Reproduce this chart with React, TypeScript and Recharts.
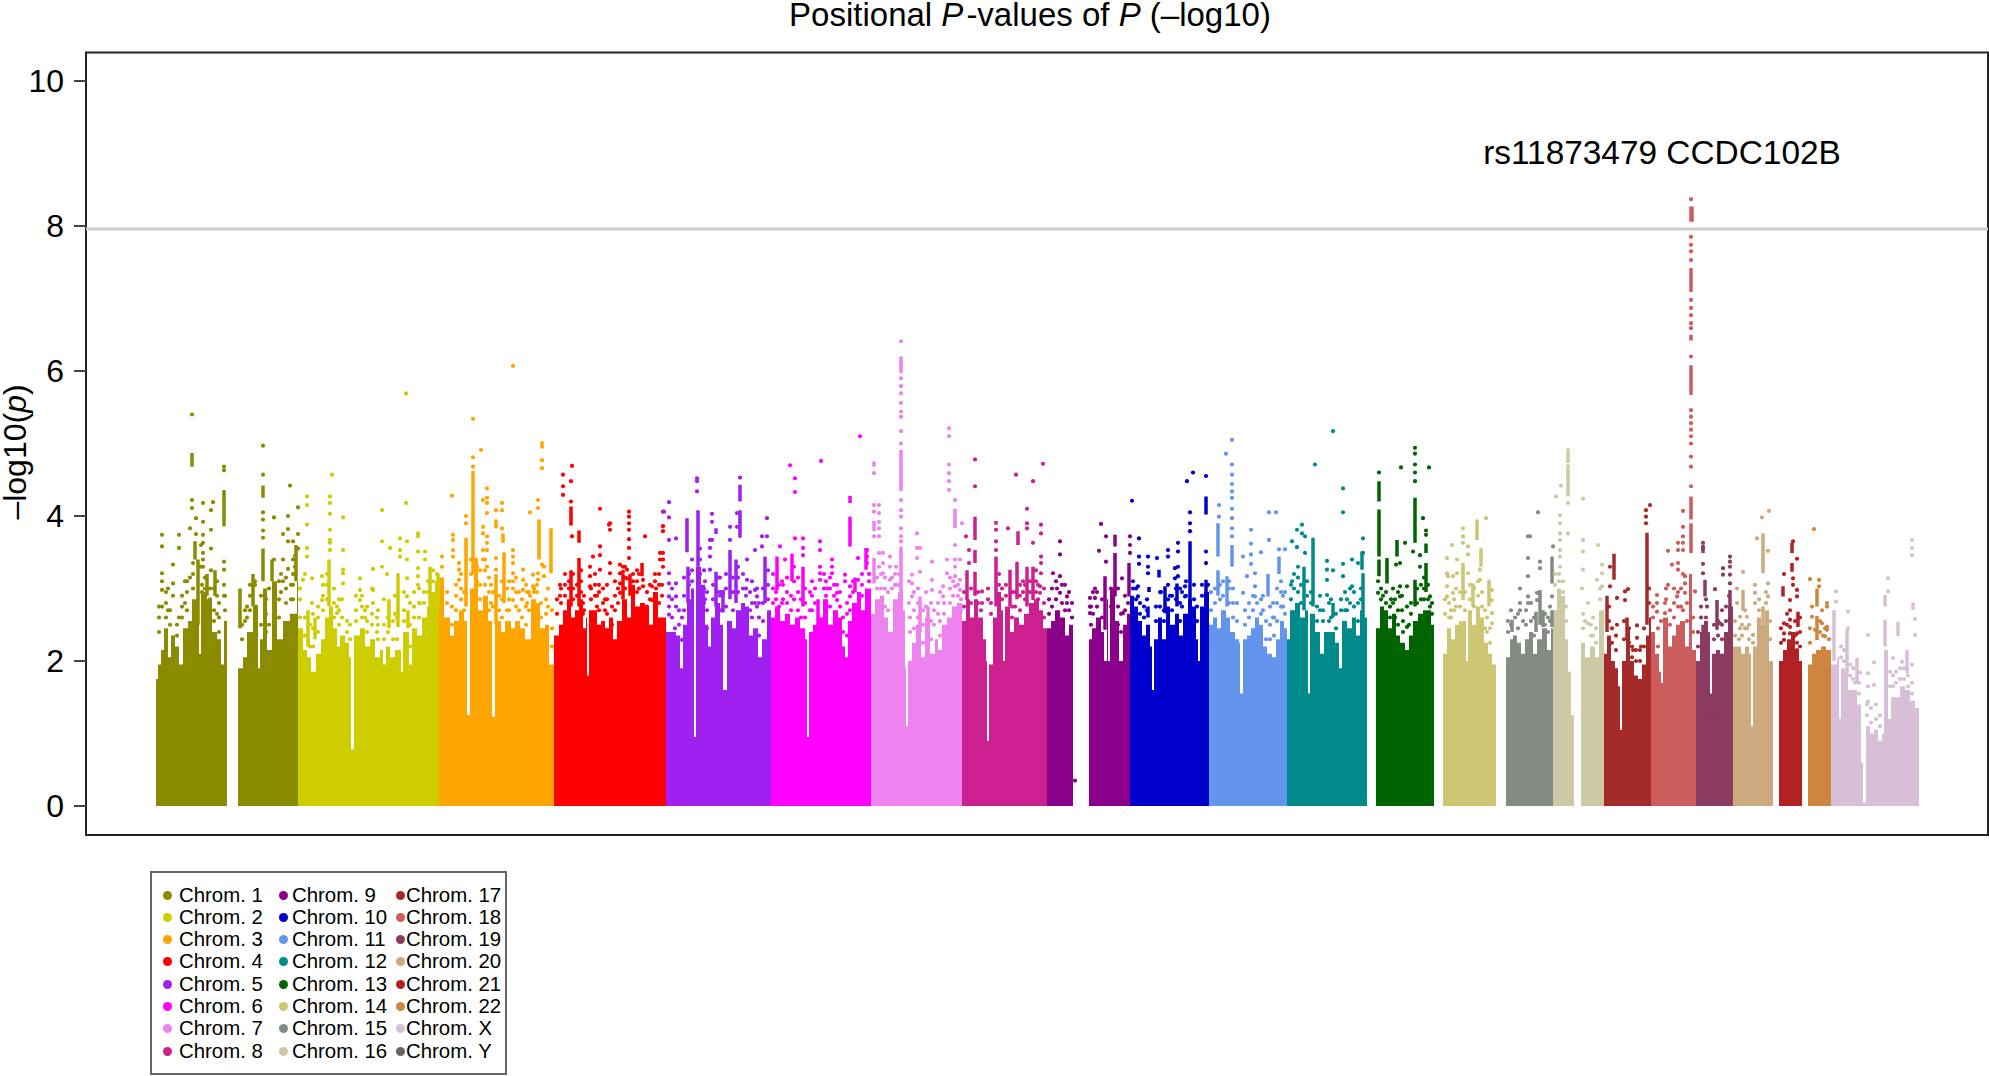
import { ComposedChart, Area, Line, Scatter, XAxis, YAxis, ReferenceLine, ReferenceArea } from 'recharts';

// x values are genome positions, in bins from the start of chromosome 1
// top: [pos, height of the dense band]; spikes: [pos, low, high]; dots: [pos, ...values]
type Top = [number, number][];
type Spike = [number, number, number];
type Dots = number[][];

const yTicks = [0, 2, 4, 6, 8, 10];
const thresholdValue = 7.96;

const chr1Top: Top = [[1, 1.75], [3, 1.95], [6, 2.15], [9, 2.45], [13, 2.05], [16, 2.35], [20, 2.2], [24, 1.95], [28, 2.45], [33, 2.55], [37, 2.85], [42, 3.3], [44, 2.1], [46, 2.95], [52, 2.85], [57, 2.4], [62, 2.3], [66, 1.95], [69, 2.55], [72, 0], [83, 1.9], [88, 2.05], [92, 2.4], [98, 2.75], [103, 1.9], [105, 2.3], [108, 3.0], [112, 2.15], [117, 3.1], [122, 2.3], [128, 2.55], [135, 2.65], [142, 3.1], [143, 0]];
const chr1Spikes: Spike[] = [[37, 4.68, 4.87], [69, 3.86, 4.36], [40, 3.4, 3.65], [43, 2.5, 3.4], [52, 2.9, 3.2], [60, 2.9, 3.25], [108, 3.1, 3.55], [108, 4.25, 4.42], [98, 2.75, 3.2], [117, 3.1, 3.4], [85, 2.45, 3.0], [141, 3.1, 3.6]];
const chr1Dots: Dots = [[37, 5.4, 4.22, 4.11], [69, 4.68, 4.63, 3.37, 3.26, 3.05, 2.9], [7, 3.74, 3.58, 3.21, 3.1, 2.98, 2.75], [24, 3.74, 3.56, 2.6], [18, 3.33, 3.07, 2.9], [35, 3.83, 3.15], [48, 4.18, 3.92, 3.74, 3.63, 3.49, 3.4, 3.3], [58, 4.19], [56, 4.08, 3.81, 3.55, 3.25], [41, 3.97, 3.75], [46, 3.6, 3.3], [62, 3.1, 2.9, 2.65], [30, 3.1, 2.8], [13, 3.0, 2.7], [108, 4.97, 4.57, 4.05, 3.95, 3.8, 3.7], [119, 3.98, 3.4], [133, 4.0, 3.82, 3.65, 3.27], [135, 4.42], [143, 4.12, 3.75, 3.55], [128, 3.75, 3.4, 3.1], [138, 3.65, 3.4, 3.2, 3.05, 2.85], [100, 3.1, 3.05], [92, 2.75, 2.6], [126, 2.95, 3.2],
  [4, 2.4, 2.6, 2.75], [11, 2.6, 2.8, 2.95], [15, 2.5, 2.7], [22, 2.35, 2.5], [27, 2.6, 2.75, 2.9], [32, 2.7, 2.95, 3.1], [38, 3.0, 3.2, 3.35], [47, 3.05, 2.95], [50, 3.0, 3.15], [55, 2.6, 2.85, 3.0], [59, 2.55, 2.7, 3.0], [64, 2.4, 2.6, 2.8], [70, 2.7, 2.9], [87, 2.3, 2.5], [90, 2.55, 2.7], [95, 2.7, 2.9, 3.05], [101, 2.6, 2.75], [106, 2.5, 2.9], [111, 2.4, 2.65, 2.85], [114, 2.5, 3.0], [120, 2.5, 2.75, 2.95], [124, 2.6, 2.85, 3.1], [131, 2.8, 3.0, 3.15], [136, 2.85, 3.05], [140, 3.2, 3.3, 3.45]];

const chr2Top: Top = [[143, 2.45], [148, 2.15], [152, 2.05], [156, 1.85], [161, 2.1], [166, 2.3], [170, 2.6], [174, 2.75], [178, 2.45], [182, 2.2], [185, 2.35], [190, 2.25], [194, 2.05], [196, 0.78], [199, 2.35], [205, 2.45], [210, 2.2], [215, 2.3], [220, 2.05], [225, 2.15], [228, 1.95], [231, 2.2], [235, 2.05], [240, 2.15], [246, 1.85], [248, 2.4], [254, 1.95], [257, 2.45], [262, 2.35], [267, 2.6], [272, 2.75], [276, 2.95], [280, 3.1], [284, 0]];
const chr2Spikes: Spike[] = [[174, 2.75, 3.4], [243, 2.47, 3.21], [234, 2.45, 2.85], [253, 2.45, 2.7], [275, 2.75, 3.3], [283, 2.75, 3.2], [153, 2.2, 2.7], [160, 2.3, 2.6]];
const chr2Dots: Dots = [[152, 4.27, 4.15, 3.88, 3.56, 3.44], [148, 3.12], [177, 4.57], [175, 4.27, 4.18, 4.03, 3.81, 3.67, 3.63, 3.53], [188, 3.98, 3.53, 3.26, 3.21, 3.07], [205, 3.14, 2.98, 2.84], [218, 3.27, 2.98, 2.8], [167, 3.17, 2.84], [157, 3.14, 2.8], [182, 2.75, 2.66], [195, 2.5, 2.3], [227, 4.08, 3.65, 3.3], [251, 5.69, 4.18], [245, 3.69, 3.53, 3.44], [235, 3.56], [232, 3.2], [263, 3.76, 3.72, 3.51, 3.28, 3.17, 3.05], [252, 3.65, 3.4, 3.14, 2.89], [270, 3.51, 3.4], [265, 2.8], [210, 2.7, 2.6], [240, 2.65, 2.9], [222, 2.4, 2.6],
  [145, 2.6, 2.85, 3.0], [150, 2.35, 2.6, 3.2], [155, 2.2, 2.5], [158, 2.2, 2.45, 2.65], [163, 2.4, 2.6, 2.75], [168, 2.7, 2.9, 3.05], [172, 2.85, 3.05, 3.2], [179, 2.6, 2.8, 3.0], [184, 2.5, 2.7, 2.85], [187, 2.6, 2.85], [192, 2.4, 2.55], [201, 2.55, 2.7, 2.9], [207, 2.6, 2.75, 2.9], [212, 2.4, 2.55, 2.75], [217, 2.5, 2.65, 3.0], [223, 2.3, 2.5, 2.7], [229, 2.3, 2.5, 2.85], [233, 2.4, 2.6], [238, 2.3, 2.55], [242, 2.3, 2.6], [249, 2.55, 2.7, 2.95], [255, 2.2, 2.5, 2.8], [259, 2.6, 2.75, 2.95], [264, 2.6, 2.8, 3.0], [269, 2.8, 2.95], [273, 2.95, 3.1], [278, 3.1, 3.25], [282, 3.2]];

const chr3Top: Top = [[284, 3.15], [289, 2.6], [295, 2.35], [299, 2.55], [304, 2.7], [309, 2.55], [312, 1.25], [315, 3.0], [319, 3.4], [323, 2.7], [328, 2.9], [333, 2.55], [337, 1.23], [340, 2.55], [346, 2.4], [350, 2.55], [356, 2.45], [360, 2.55], [365, 2.45], [370, 2.3], [376, 2.85], [381, 2.8], [385, 2.45], [390, 2.5], [394, 1.95], [399, 0]];
const chr3Spikes: Spike[] = [[318, 3.2, 4.62], [311, 2.75, 3.7], [341, 3.83, 3.95], [341, 2.5, 3.2], [348, 3.63, 3.76], [349, 2.8, 3.5], [384, 3.4, 3.95], [387, 4.93, 5.03], [396, 3.21, 3.83]];
const chr3Dots: Dots = [[318, 5.34, 4.81, 4.68], [326, 4.91], [358, 6.07], [297, 4.28], [287, 3.44, 3.3], [298, 3.74, 3.67, 3.53, 3.44], [304, 3.35, 3.26, 3.12], [311, 4.0, 3.9], [332, 4.38, 4.25, 4.18, 4.04, 3.72, 3.63, 3.53, 3.3], [328, 4.22, 3.85, 3.76, 3.53, 3.4], [341, 4.08, 3.42, 3.26], [347, 4.18, 4.08, 3.83], [358, 3.53, 3.44, 3.35, 3.21, 3.1, 3.0, 2.84], [368, 3.26, 3.12, 2.98], [375, 4.05, 2.9], [383, 4.22, 4.11, 3.21, 3.12], [387, 4.77, 4.66, 3.33], [378, 3.19, 3.03], [389, 3.3, 3.17], [322, 3.1, 3.3], [336, 3.05, 2.8], [352, 3.0, 2.7], [364, 2.95, 2.7], [372, 2.8, 2.95],
  [287, 2.75, 2.95], [292, 2.55, 2.8, 2.95], [297, 2.5, 2.75], [301, 2.7, 2.9, 3.05], [306, 2.85, 3.0, 3.2], [309, 2.7, 2.95], [316, 3.2, 3.4], [321, 2.9, 3.1, 3.4], [325, 2.85, 3.05, 3.25], [330, 3.05, 3.25, 3.4], [334, 2.7, 2.95, 3.15], [338, 2.75, 2.95], [344, 2.7, 2.9], [347, 2.6, 2.85, 3.1], [354, 2.7, 2.85, 3.1], [361, 2.75, 2.95, 3.15], [367, 2.6, 2.85], [371, 2.5, 2.75, 3.05], [374, 2.7, 2.95], [379, 3.0, 2.95], [382, 2.95, 3.05], [386, 2.6, 2.8], [391, 2.65, 2.85], [393, 2.75, 3.0], [397, 2.2, 2.45, 2.7]];

const chr4Top: Top = [[399, 2.35], [404, 2.5], [408, 2.7], [412, 2.85], [416, 2.6], [420, 2.7], [424, 2.85], [428, 2.45], [431, 2.6], [432, 1.8], [434, 2.7], [438, 2.7], [442, 2.5], [446, 2.55], [450, 2.45], [454, 2.6], [458, 2.3], [462, 2.55], [467, 2.85], [472, 2.6], [476, 3.05], [480, 2.75], [485, 2.8], [490, 2.75], [494, 2.5], [498, 2.95], [503, 2.6], [511, 0]];
const chr4Spikes: Spike[] = [[416, 3.87, 4.13], [416, 2.75, 3.25], [424, 3.63, 3.8], [424, 2.75, 3.42], [468, 2.85, 3.2], [475, 2.9, 3.2], [487, 3.17, 3.35]];
const chr4Dots: Dots = [[417, 4.69, 3.72], [408, 4.57, 4.41, 4.29], [416, 4.48, 4.2], [445, 4.1, 3.58, 3.46, 3.26], [454, 3.88], [435, 3.3, 3.17, 3.03], [438, 3.44], [474, 4.06, 3.99, 3.9, 3.81, 3.68, 3.56, 3.42], [490, 3.72], [508, 4.06, 3.86, 3.79, 3.49, 3.4, 3.3], [505, 3.49, 3.4], [468, 3.3, 3.23], [472, 3.26, 3.14], [488, 3.12, 3.03], [497, 3.03, 2.84], [465, 3.33, 3.21, 3.07, 2.94], [455, 3.9, 3.81, 3.35, 3.21], [405, 2.9, 3.05], [428, 2.8, 2.65], [442, 2.75, 2.9], [450, 2.7, 2.85], [500, 3.1, 3.2],
  [402, 2.65, 2.85], [406, 2.8, 3.0], [410, 2.9, 3.05, 3.2], [414, 3.0, 3.1], [418, 2.85, 3.0, 3.2], [422, 2.9, 3.05], [426, 2.95, 3.1, 3.25], [429, 2.7, 2.9], [436, 2.85, 3.0], [440, 2.9, 3.05, 3.2], [444, 2.7, 2.95, 3.05], [448, 2.8, 3.0], [452, 2.65, 2.85, 3.05], [457, 2.5, 2.75], [460, 2.7, 2.9, 3.1], [463, 2.8, 3.0], [470, 3.0, 3.15, 3.3], [478, 3.1, 3.2], [482, 2.95, 3.1, 3.25], [484, 3.0, 3.2], [492, 2.75, 2.95], [495, 2.85, 3.05], [501, 2.85, 3.0], [504, 2.8, 3.05, 3.2], [507, 2.9, 3.05]];

const chr5Top: Top = [[511, 2.4], [516, 2.4], [521, 2.35], [525, 1.9], [528, 2.5], [532, 2.85], [536, 3.0], [539, 0.95], [541, 3.3], [546, 3.05], [550, 2.5], [553, 2.2], [556, 2.6], [560, 2.8], [565, 2.5], [568, 1.6], [572, 2.55], [577, 2.45], [581, 2.7], [586, 2.8], [590, 2.75], [594, 2.35], [598, 2.45], [603, 2.05], [607, 2.3], [612, 2.7], [616, 0]];
const chr5Spikes: Spike[] = [[532, 3.5, 3.97], [533, 2.8, 3.3], [543, 3.3, 4.08], [561, 3.75, 3.83], [561, 2.75, 3.23], [585, 4.2, 4.43], [585, 3.7, 4.08], [575, 2.85, 3.53], [581, 2.8, 3.4], [610, 2.8, 3.44], [568, 2.67, 2.98]];
const chr5Dots: Dots = [[514, 4.19, 3.98, 3.67, 3.21, 3.07, 2.89, 2.75, 2.64], [509, 4.06], [521, 3.69, 3.07, 2.89, 2.75], [542, 4.52, 4.34, 4.48], [585, 4.53], [557, 4.03, 3.92, 3.67], [555, 3.67, 3.56, 3.44, 3.26], [612, 3.97, 3.72], [607, 3.72, 3.58], [600, 3.53, 2.98, 2.8], [592, 3.4, 3.12], [575, 3.85, 3.67], [582, 4.04, 3.85], [602, 3.0, 2.89, 2.75], [568, 2.94], [527, 2.29, 2.6], [550, 3.1, 2.85], [565, 3.15, 2.9], [595, 2.95, 2.7], [520, 2.45], [548, 1.9, 2.0], [596, 1.9],
  [517, 2.6, 2.85, 3.0], [524, 2.5, 2.7], [529, 2.7, 2.9, 3.15], [534, 3.05, 3.2], [537, 3.1, 3.25, 3.4], [545, 3.2, 3.4, 3.55], [549, 2.8, 3.0, 3.25], [552, 2.45, 2.7, 2.95], [558, 2.85, 3.05], [563, 2.75, 2.95, 3.15], [566, 2.7, 2.95], [571, 2.75, 3.0, 3.2], [578, 2.7, 2.95, 3.15], [583, 2.95, 3.15, 3.3], [588, 3.0, 3.2], [591, 2.9, 3.0], [597, 2.6, 2.8, 3.1], [604, 2.35, 2.6, 2.8], [608, 2.55, 2.8, 3.0], [613, 2.85, 3.05, 3.25]];

const chr6Top: Top = [[616, 2.6], [620, 2.75], [625, 2.55], [630, 2.65], [635, 2.5], [640, 2.6], [645, 2.45], [650, 2.3], [652, 0.95], [654, 2.4], [658, 2.5], [663, 2.6], [668, 2.85], [673, 2.5], [678, 2.7], [683, 2.6], [687, 2.2], [690, 2.05], [693, 2.55], [697, 2.8], [702, 2.95], [706, 2.7], [710, 3.0], [716, 0]];
const chr6Spikes: Spike[] = [[637, 3.1, 3.48], [648, 2.75, 3.3], [622, 2.98, 3.44], [663, 2.4, 2.85], [695, 4.18, 4.28], [695, 3.58, 3.99], [711, 3.26, 3.56], [700, 2.95, 3.15]];
const chr6Dots: Dots = [[635, 4.7], [640, 4.52, 4.33, 3.69], [666, 4.76], [648, 3.69, 3.56, 3.46], [625, 3.58], [665, 3.65, 3.53, 3.3, 3.21, 3.12], [677, 3.4, 3.3, 3.21], [682, 3.05, 2.94, 2.84], [630, 3.4], [705, 5.1], [690, 3.19, 3.1], [712, 3.53, 3.44, 3.35], [703, 3.42, 3.12], [695, 3.03, 2.89, 2.7], [655, 2.95, 2.7], [672, 3.0, 2.75], [628, 3.05, 2.85],
  [618, 2.8, 3.0, 3.2], [621, 2.85, 2.95], [624, 2.75, 3.05], [627, 2.8, 3.1], [632, 2.8, 2.95, 3.15], [636, 2.7, 2.9], [639, 2.85, 3.1, 3.3], [643, 2.7, 2.95, 3.15], [646, 2.6, 2.85], [650, 2.6, 2.8, 3.0], [657, 2.7, 2.9, 3.1], [660, 2.8, 3.0], [669, 3.0, 3.2], [671, 2.9, 3.1], [675, 2.75, 3.0, 3.15], [679, 2.9, 3.05], [685, 2.75, 2.95], [688, 2.4, 2.6], [692, 2.35, 2.65, 2.8], [698, 2.95, 3.1], [707, 2.9, 3.05, 3.2], [714, 3.1, 3.2]];

const chr7Top: Top = [[716, 2.65], [720, 2.85], [725, 2.9], [729, 2.6], [733, 2.4], [738, 2.85], [743, 2.95], [748, 2.7], [750, 1.9], [751, 1.1], [753, 2.0], [757, 2.25], [761, 2.5], [766, 2.05], [770, 2.6], [775, 2.1], [780, 2.3], [783, 2.15], [787, 2.5], [792, 2.6], [797, 2.75], [802, 2.8], [807, 0]];
const chr7Spikes: Spike[] = [[746, 5.97, 6.2], [746, 4.34, 4.91], [746, 2.9, 3.58], [719, 3.07, 3.42], [719, 4.68, 4.75], [719, 3.79, 3.93], [800, 3.83, 4.1], [765, 2.4, 2.89], [773, 2.3, 2.75]];
const chr7Dots: Dots = [[746, 6.41, 5.9, 5.79, 5.69, 5.56, 5.44, 5.37, 5.17, 5.0, 4.22, 4.08, 3.99, 3.83, 3.72, 3.65], [794, 5.21, 5.1, 4.71, 4.59, 4.48, 4.36], [719, 4.59, 4.15, 4.06, 3.72], [724, 4.15, 4.04, 3.92, 3.83, 3.72, 3.49, 3.3], [728, 3.49, 3.35, 3.21], [735, 3.44, 3.3, 3.12], [762, 3.76, 3.56, 3.42], [765, 3.56, 3.23], [777, 3.37, 3.12, 2.98], [757, 3.19, 3.07, 2.89], [800, 4.22, 3.6, 3.4, 3.3, 3.17, 3.03], [792, 3.4, 3.21], [805, 3.4, 3.12, 2.98], [807, 3.9], [788, 3.03, 2.89], [740, 3.2, 3.05], [754, 3.1, 2.8], [783, 2.8, 2.65],
  [722, 3.0, 3.15], [726, 3.0, 3.2], [730, 2.75, 3.0, 3.15], [733, 2.7, 2.95], [737, 3.0, 3.15], [741, 3.05, 3.3], [744, 3.05, 3.2], [755, 2.4, 2.6], [759, 2.45, 2.7, 2.95], [763, 2.6, 2.8, 3.0], [768, 2.25, 2.5, 2.7], [771, 2.75, 2.95], [776, 2.3, 2.55, 2.8], [779, 2.5, 2.7], [785, 2.35, 2.55, 2.95], [789, 2.65, 2.8], [795, 2.8, 3.0, 3.15], [798, 2.9, 3.1], [803, 2.9, 3.05], [806, 2.7, 2.85]];

const chr8Top: Top = [[807, 2.55], [811, 2.85], [815, 2.6], [819, 2.85], [823, 2.6], [828, 2.3], [831, 2.0], [832, 0.9], [834, 1.95], [838, 2.6], [842, 2.95], [846, 2.7], [848, 2.0], [850, 2.75], [855, 2.4], [859, 2.6], [864, 2.5], [869, 2.65], [874, 2.8], [879, 2.85], [884, 2.7], [888, 2.45], [892, 0]];
const chr8Spikes: Spike[] = [[820, 3.67, 3.99], [820, 3.35, 3.53], [820, 2.9, 3.23], [812, 2.84, 3.25], [841, 2.75, 3.44], [841, 3.88, 3.93], [863, 3.6, 3.79], [878, 2.84, 3.3], [872, 2.75, 3.3], [862, 2.85, 3.37], [855, 2.75, 3.26]];
const chr8Dots: Dots = [[820, 4.78, 4.41], [888, 4.72], [861, 4.57], [878, 4.48, 3.63], [872, 4.1, 3.9, 3.83], [853, 3.83], [886, 3.88, 3.76, 3.44, 3.35, 3.21], [841, 3.81, 3.65, 3.53], [811, 3.72], [814, 3.53, 3.35], [827, 2.96, 2.8], [885, 3.03, 2.94], [833, 3.0, 2.85], [868, 3.1, 2.95],
  [809, 2.75, 2.95], [816, 2.8, 3.0], [823, 2.8, 2.95], [826, 2.55, 2.7], [836, 2.8, 2.65], [844, 3.05, 3.2], [847, 2.85, 3.0], [851, 2.9, 3.05], [857, 2.6, 2.75, 2.95], [860, 2.75, 2.95], [865, 2.7, 2.9, 3.05], [870, 2.85, 3.05], [875, 2.95, 3.1], [881, 2.95, 3.1, 3.25], [883, 2.85, 3.05], [889, 2.6, 2.8, 3.0]];

const chr9Top: Top = [[892, 2.45], [896, 2.55], [900, 2.7], [905, 2.6], [910, 2.35], [914, 2.5], [918, 0], [934, 2.3], [937, 2.45], [941, 2.6], [946, 2.4], [949, 2.0], [952, 2.85], [953, 2.0], [955, 3.0], [960, 2.55], [964, 2.0], [968, 2.5], [972, 2.65], [975, 0]];
const chr9Spikes: Spike[] = [[960, 3.58, 3.74], [960, 2.89, 3.49], [950, 2.43, 3.17], [974, 2.89, 3.35]];
const chr9Dots: Dots = [[920, 0.35], [946, 3.89], [951, 3.72, 3.37], [944, 3.52], [935, 2.87, 2.75, 2.66], [940, 2.87, 3.0], [905, 3.65, 3.47, 3.17, 2.94], [898, 3.21], [902, 3.0], [912, 2.89, 2.8], [975, 3.72, 3.6, 3.49], [967, 3.14], [968, 2.66], [956, 2.75, 3.0], [910, 3.05, 2.7],
  [894, 2.65, 2.85], [897, 2.75, 3.0], [901, 2.85, 3.1], [907, 2.8, 3.05], [914, 2.7, 2.95], [917, 2.6, 2.8], [936, 2.5, 2.75], [938, 2.65, 2.95], [942, 2.75, 2.95], [947, 2.6, 2.85], [958, 2.7, 2.95], [963, 2.5, 2.75, 3.0], [966, 2.4, 2.65], [970, 2.7, 2.9], [973, 2.8]];

const chr10Top: Top = [[975, 2.9], [979, 2.75], [983, 2.55], [987, 2.35], [991, 2.5], [995, 2.2], [997, 1.6], [999, 2.3], [1003, 2.6], [1007, 2.3], [1011, 2.75], [1015, 2.5], [1020, 2.65], [1024, 2.35], [1028, 2.65], [1033, 2.85], [1037, 2.75], [1041, 2.3], [1043, 2.0], [1045, 2.75], [1049, 2.95], [1054, 0]];
const chr10Spikes: Spike[] = [[1035, 2.75, 3.65], [1051, 4.02, 4.27], [1051, 2.7, 3.12], [994, 2.95, 3.02], [993, 2.6, 2.75], [1010, 2.66, 3.03], [1022, 2.75, 3.07], [1004, 3.15, 3.26]];
const chr10Dots: Dots = [[977, 4.21], [1038, 4.6], [1032, 4.48], [1051, 4.55, 3.51, 3.35], [1035, 4.05, 3.9, 3.79], [984, 3.69, 3.44, 3.34], [993, 3.44, 3.3, 3.21], [1013, 3.53, 3.44], [1023, 3.63, 3.51, 3.3, 3.17], [1020, 3.28, 3.14], [983, 3.03, 2.89], [1002, 3.42], [1030, 3.03, 2.89], [1015, 2.9], [1006, 2.95],
  [978, 3.0, 3.1], [981, 2.85, 3.0], [985, 2.65, 2.8], [989, 2.6, 2.75], [992, 2.7, 2.85], [1001, 2.55, 2.75], [1005, 2.75, 2.95], [1009, 2.55, 2.7], [1013, 2.85, 3.05], [1017, 2.7, 2.9], [1021, 2.85, 3.0], [1025, 2.55, 2.8, 3.0], [1027, 2.75, 2.95], [1031, 2.9, 3.1], [1039, 2.85, 3.05], [1042, 2.55, 2.75], [1047, 2.9, 3.05], [1053, 3.05]];

const chr11Top: Top = [[1054, 2.5], [1058, 2.6], [1062, 2.45], [1066, 2.7], [1071, 2.6], [1075, 2.4], [1080, 2.3], [1084, 2.25], [1085, 1.55], [1088, 2.3], [1092, 2.35], [1096, 2.45], [1100, 2.6], [1104, 2.5], [1108, 2.2], [1112, 2.1], [1117, 2.05], [1121, 2.3], [1125, 2.55], [1129, 2.45], [1132, 0]];
const chr11Spikes: Spike[] = [[1063, 3.44, 3.9], [1063, 2.9, 3.25], [1072, 2.75, 3.17], [1077, 3.3, 3.6], [1113, 2.89, 3.2], [1124, 3.2, 3.44]];
const chr11Dots: Dots = [[1077, 5.05, 4.71, 4.57, 4.44, 4.34, 4.25, 4.1, 3.97, 3.83, 3.72], [1071, 4.86], [1064, 4.15, 3.99], [1114, 4.05, 3.67], [1121, 4.05], [1106, 3.5], [1096, 3.81, 3.62, 3.47, 3.34], [1088, 3.44, 2.94], [1124, 3.54], [1130, 3.54], [1092, 3.17], [1100, 3.21, 3.03, 2.89], [1108, 2.9, 2.7], [1118, 2.8, 2.6], [1128, 2.9, 2.75],
  [1056, 2.7, 2.95], [1060, 2.8, 3.0], [1065, 2.85, 3.05], [1068, 2.9, 3.1], [1074, 2.8, 3.0, 3.1], [1078, 2.6, 2.8, 3.0], [1082, 2.55, 2.8], [1090, 2.5, 2.7], [1094, 2.6, 2.8], [1098, 2.7, 2.9], [1102, 2.8], [1106, 2.65, 2.85], [1111, 2.3, 2.55], [1115, 2.3, 2.5, 2.75], [1119, 2.35, 2.6], [1122, 2.55, 2.8, 3.0], [1126, 2.75, 2.95, 3.1], [1130, 2.65, 2.95]];

const chr12Top: Top = [[1132, 2.3], [1135, 2.7], [1140, 2.8], [1145, 2.6], [1150, 2.7], [1153, 1.55], [1155, 2.65], [1160, 2.4], [1165, 2.1], [1169, 2.4], [1175, 2.4], [1180, 2.25], [1184, 1.9], [1187, 2.55], [1192, 2.45], [1197, 2.6], [1201, 2.35], [1205, 2.7], [1209, 2.6], [1212, 0]];
const chr12Spikes: Spike[] = [[1158, 2.75, 3.7], [1149, 2.7, 3.3], [1208, 2.6, 3.21], [1178, 2.6, 2.8], [1207, 3.26, 3.51]];
const chr12Dots: Dots = [[1178, 5.17, 3.25], [1160, 4.71], [1188, 4.38, 4.05, 3.34, 3.17], [1208, 3.69, 3.49], [1147, 3.88, 3.76], [1137, 3.65, 3.1], [1142, 3.57, 3.81], [1172, 3.38, 3.26, 3.12, 2.91], [1197, 3.4, 3.03], [1203, 3.35], [1150, 3.72, 3.49], [1165, 2.7, 2.9], [1192, 2.85, 2.7],
  [1136, 2.85, 3.05], [1139, 3.0, 3.2], [1143, 2.95, 3.15, 3.3], [1146, 2.8, 3.05], [1152, 2.9, 3.1], [1156, 2.8, 2.95], [1162, 2.55, 2.75], [1168, 2.55, 2.7], [1174, 2.55, 2.8], [1176, 2.6, 2.85], [1181, 2.45, 2.65], [1186, 2.7, 2.85], [1190, 2.7, 2.95], [1195, 2.8, 3.0], [1199, 2.75, 2.95], [1203, 2.55, 2.8], [1206, 2.85, 3.0]];

const chr13Top: Top = [[1221, 2.45], [1225, 2.75], [1229, 2.7], [1233, 2.45], [1237, 2.65], [1241, 2.35], [1245, 2.25], [1250, 2.15], [1254, 2.35], [1258, 2.55], [1263, 2.65], [1268, 2.7], [1272, 2.7], [1276, 2.5], [1279, 0]];
const chr13Spikes: Spike[] = [[1224, 4.2, 4.48], [1224, 3.44, 4.09], [1224, 3.17, 3.4], [1232, 3.07, 3.42], [1260, 3.63, 4.25], [1260, 2.75, 3.12], [1271, 3.49, 3.62], [1271, 2.95, 3.35], [1242, 3.44, 3.67]];
const chr13Dots: Dots = [[1224, 4.6], [1260, 4.94, 4.86, 4.71, 4.6, 4.48], [1246, 4.67], [1274, 4.67], [1268, 3.97], [1271, 3.8, 3.74], [1258, 3.51], [1265, 3.46, 3.3], [1250, 3.63], [1241, 3.33], [1245, 3.35, 3.03, 2.89], [1252, 3.03, 2.75, 2.47], [1223, 3.1, 2.94], [1275, 2.89, 2.75], [1236, 2.85], [1248, 2.4, 2.55], [1254, 2.5],
  [1226, 2.85, 3.0], [1228, 2.9], [1231, 2.8, 2.95], [1235, 2.6, 2.75], [1238, 2.8, 3.0], [1240, 2.6, 2.85], [1243, 2.5, 2.7, 2.95], [1247, 2.7, 2.9], [1256, 2.65, 2.8], [1262, 2.8, 3.0], [1266, 2.85, 3.05], [1269, 2.85, 3.0, 3.15], [1273, 2.85, 3.05], [1277, 2.65, 2.8]];

const chr14Top: Top = [[1288, 2.1], [1292, 2.45], [1296, 2.3], [1300, 2.5], [1304, 2.55], [1308, 2.55], [1311, 2.0], [1313, 2.7], [1317, 2.5], [1321, 2.75], [1325, 2.6], [1329, 2.25], [1333, 2.1], [1337, 1.95], [1341, 0]];
const chr14Spikes: Spike[] = [[1322, 3.67, 3.95], [1326, 3.3, 3.56], [1308, 2.84, 3.35], [1318, 2.75, 3.07], [1334, 2.75, 3.12]];
const chr14Dots: Dots = [[1331, 3.97], [1308, 3.83, 3.72, 3.63], [1297, 3.6], [1292, 3.42, 3.21, 3.03, 2.89], [1313, 3.58, 3.47, 3.21], [1302, 3.4, 3.21], [1293, 3.17], [1298, 3.17, 2.94], [1325, 3.26, 3.12], [1337, 2.98, 2.84, 2.66, 2.52], [1296, 2.7, 2.6],
  [1290, 2.65, 2.85], [1294, 2.6, 2.8], [1299, 2.7, 2.85], [1301, 2.75, 3.0], [1305, 2.75, 2.95], [1310, 2.7, 2.95], [1315, 2.85, 3.05], [1319, 2.75, 3.0], [1323, 2.9, 3.1], [1327, 2.75, 2.95], [1330, 2.45, 2.7], [1332, 2.4, 2.6], [1335, 2.25, 2.45]];

const chr15Top: Top = [[1351, 2.05], [1355, 2.3], [1358, 2.35], [1362, 2.25], [1366, 2.1], [1370, 2.3], [1374, 2.4], [1378, 2.1], [1382, 2.3], [1387, 2.45], [1392, 2.15], [1396, 2.45], [1398, 0]];
const chr15Spikes: Spike[] = [[1357, 2.4, 2.57], [1381, 2.4, 2.68], [1385, 2.5, 2.98], [1388, 2.47, 2.7], [1397, 2.47, 2.7], [1397, 3.07, 3.44]];
const chr15Dots: Dots = [[1383, 4.05], [1398, 3.58], [1385, 3.37, 3.28], [1373, 3.72, 3.42, 3.17, 2.89, 2.8], [1365, 3.0, 2.8, 2.7], [1382, 2.94, 2.84], [1397, 2.89], [1375, 3.72], [1360, 2.6], [1368, 2.55],
  [1353, 2.4, 2.55], [1356, 2.5, 2.7], [1363, 2.45, 2.65], [1371, 2.5, 2.7], [1376, 2.55, 2.8], [1379, 2.35, 2.6], [1390, 2.5, 2.65], [1393, 2.4, 2.6], [1395, 2.55, 2.75]];

const chr16Top: Top = [[1398, 2.7], [1402, 3.0], [1406, 2.9], [1410, 2.3], [1413, 1.85], [1416, 1.25], [1419, 0], [1426, 2.25], [1430, 2.05], [1435, 2.2], [1440, 2.05], [1444, 2.7], [1449, 0]];
const chr16Spikes: Spike[] = [[1413, 4.73, 4.93], [1413, 4.27, 4.71]];
const chr16Dots: Dots = [[1413, 4.18, 3.76], [1406, 4.42], [1401, 4.27], [1428, 4.24, 3.67, 3.51, 3.26], [1443, 3.6], [1405, 4.01, 3.9, 3.76, 3.67, 3.53, 3.44, 3.3], [1427, 3.0], [1433, 2.8, 2.52], [1442, 3.12], [1447, 3.33, 3.21, 3.03], [1430, 2.55], [1438, 2.6, 2.35],
  [1400, 3.05, 3.2], [1404, 3.1, 3.2], [1408, 2.95, 3.1], [1411, 2.55, 2.75], [1428, 2.45, 2.65], [1436, 2.35, 2.5], [1441, 2.25, 2.45], [1445, 2.85, 3.0]];

const chr17Top: Top = [[1449, 2.1], [1452, 2.35], [1456, 2.0], [1460, 1.9], [1463, 1.65], [1465, 1.05], [1467, 2.0], [1471, 2.45], [1475, 2.0], [1479, 1.8], [1483, 1.75], [1487, 1.95], [1491, 2.35], [1494, 2.6], [1496, 0]];
const chr17Spikes: Spike[] = [[1459, 3.12, 3.48], [1452, 2.4, 2.9], [1472, 2.3, 2.6], [1492, 2.5, 3.77]];
const chr17Dots: Dots = [[1495, 4.15], [1491, 4.08, 3.99, 3.9], [1470, 2.96, 2.84], [1473, 2.99], [1462, 2.87, 2.5], [1482, 2.49, 2.32], [1455, 3.3, 3.03], [1478, 2.15], [1486, 2.2],
  [1454, 2.55, 2.75], [1457, 2.25, 2.45], [1461, 2.15, 2.35], [1469, 2.3, 2.55], [1474, 2.25, 2.45], [1477, 2.05, 2.2], [1481, 2.0, 2.15], [1485, 2.0, 2.15], [1489, 2.2, 2.45], [1494, 2.8, 3.0]];

const chr18Top: Top = [[1496, 2.4], [1500, 2.1], [1504, 1.85], [1506, 1.7], [1508, 2.6], [1513, 2.2], [1517, 2.35], [1521, 2.5], [1525, 2.55], [1530, 2.2], [1534, 3.2], [1537, 2.15], [1541, 0]];
const chr18Spikes: Spike[] = [[1536, 8.06, 8.27], [1537, 8.06, 8.27], [1536, 7.09, 7.42], [1536, 6.42, 6.5], [1536, 5.67, 6.08], [1536, 3.95, 4.27], [1536, 3.49, 3.9]];
const chr18Dots: Dots = [[1536, 8.37, 7.85, 7.74, 7.65, 7.53, 6.98, 6.87, 6.77, 6.66, 6.59, 6.2, 5.46, 5.37, 5.28, 5.19, 5.1, 5.0, 4.82, 4.68, 4.41], [1528, 4.07, 3.85, 3.72, 3.63, 3.53], [1523, 3.63, 3.53, 3.35, 3.26], [1513, 3.52, 3.05], [1517, 3.33], [1530, 3.17, 3.07, 2.94], [1502, 2.91, 2.8, 2.68], [1510, 2.8, 2.66], [1522, 2.89], [1540, 2.96], [1526, 3.0, 2.75], [1506, 2.55],
  [1498, 2.6, 2.75], [1503, 2.2, 2.45], [1511, 2.85, 3.0], [1515, 2.5, 2.7], [1519, 2.6, 2.8, 3.0], [1523, 2.75, 2.95], [1528, 2.45, 2.7, 3.2], [1532, 2.55, 2.8], [1538, 2.4, 2.6]];

const chr19Top: Top = [[1541, 2.0], [1545, 2.4], [1549, 2.55], [1553, 2.4], [1555, 1.55], [1557, 2.1], [1561, 2.15], [1565, 2.1], [1569, 2.4], [1573, 2.75], [1578, 0]];
const chr19Spikes: Spike[] = [[1550, 2.89, 3.12], [1548, 3.49, 3.6], [1548, 2.1, 2.5], [1562, 2.43, 2.84], [1575, 2.47, 2.98]];
const chr19Dots: Dots = [[1548, 3.63, 3.56, 3.34, 3.21], [1575, 3.44, 3.37, 3.3, 3.19, 3.07], [1568, 3.28, 3.19], [1560, 2.99], [1552, 2.75], [1565, 2.52], [1556, 1.2],
  [1543, 2.2, 2.4], [1546, 2.6, 2.75], [1551, 2.6, 2.85], [1559, 2.3, 2.5], [1563, 2.35, 2.55], [1567, 2.3, 2.5, 2.7], [1571, 2.55, 2.75], [1574, 2.9]];

const chr20Top: Top = [[1578, 2.2], [1582, 2.2], [1586, 2.1], [1590, 2.2], [1594, 2.1], [1596, 1.1], [1598, 2.2], [1602, 2.6], [1606, 2.5], [1610, 2.7], [1614, 2.0], [1618, 0]];
const chr20Spikes: Spike[] = [[1588, 2.7, 2.98], [1608, 3.21, 3.76], [1608, 2.5, 2.75]];
const chr20Dots: Dots = [[1614, 4.07], [1607, 3.98], [1602, 3.69], [1613, 3.52, 3.07, 2.89], [1588, 3.23], [1582, 3.0, 2.8], [1585, 2.61, 2.45], [1592, 2.61, 2.45], [1600, 3.05, 2.94, 2.8], [1598, 2.36, 2.25], [1596, 0.9, 0.6],
  [1580, 2.35, 2.55], [1584, 2.3], [1587, 2.35, 2.5], [1590, 2.45, 2.7], [1594, 2.3, 2.5], [1604, 2.7, 2.85], [1611, 2.8, 2.95], [1615, 2.3, 2.55]];

const chr21Top: Top = [[1624, 2.0], [1628, 2.15], [1632, 2.3], [1636, 2.4], [1640, 2.15], [1644, 2.0], [1647, 0]];
const chr21Spikes: Spike[] = [[1637, 3.23, 3.35], [1637, 3.49, 3.63], [1643, 2.47, 2.68], [1628, 2.89, 3.03]];
const chr21Dots: Dots = [[1638, 3.65, 3.14, 3.05], [1642, 3.41, 2.98, 2.89, 2.38, 2.25, 2.15], [1629, 3.2, 2.52, 2.38, 2.29], [1635, 2.84, 2.7, 2.57, 2.47, 2.38],
  [1626, 2.25, 2.45], [1632, 2.5, 2.65], [1640, 2.35, 2.55], [1645, 2.2, 2.4, 2.6]];

const chr22Top: Top = [[1653, 1.95], [1657, 2.1], [1661, 2.15], [1666, 2.2], [1671, 2.15], [1676, 0]];
const chr22Spikes: Spike[] = [[1662, 2.75, 3.0], [1662, 2.29, 2.62]];
const chr22Dots: Dots = [[1659, 3.82], [1655, 3.13], [1664, 3.12, 3.03], [1672, 2.8, 2.75, 2.47, 2.43], [1657, 2.75, 2.61], [1667, 2.7, 2.52], [1670, 2.45, 2.34], [1660, 2.43],
  [1655, 2.25, 2.45], [1665, 2.4, 2.55], [1668, 2.35], [1674, 2.3]];

const chrXTop: Top = [[1676, 1.95], [1682, 2.05], [1684, 1.2], [1686, 1.9], [1690, 1.85], [1693, 1.6], [1697, 1.6], [1702, 1.4], [1706, 0.6], [1708, 0.05], [1711, 1.1], [1715, 1.0], [1719, 1.05], [1723, 0.9], [1727, 1.0], [1729, 2.15], [1733, 1.2], [1736, 1.5], [1740, 1.5], [1745, 1.65], [1750, 1.6], [1755, 1.45], [1760, 1.35], [1764, 0]];
const chrXSpikes: Spike[] = [[1679, 2.0, 2.7], [1692, 1.83, 2.43], [1702, 1.69, 2.04], [1730, 2.75, 2.91], [1730, 2.2, 2.57], [1743, 2.34, 2.54], [1752, 1.83, 2.15]];
const chrXDots: Dots = [[1757, 3.67, 3.56, 3.46, 1.95], [1733, 3.14, 2.96], [1681, 2.96, 2.82], [1693, 2.68, 2.45], [1713, 2.36, 1.83, 1.65, 1.44], [1719, 1.98, 1.67], [1758, 2.78, 2.73], [1760, 2.58, 2.36], [1738, 2.04], [1705, 1.84], [1747, 1.99], [1700, 1.9, 1.7], [1745, 1.9, 1.75],
  [1686, 2.05, 2.2], [1689, 2.0, 2.15], [1695, 1.8, 1.95], [1698, 1.75, 1.9], [1704, 1.55, 1.7], [1712, 1.25, 1.4], [1716, 1.15, 1.35], [1721, 1.2, 1.4], [1725, 1.1, 1.25], [1735, 1.65, 1.85], [1738, 1.65, 1.8], [1741, 1.7, 1.85], [1749, 1.75, 1.9], [1753, 1.65, 1.8], [1757, 1.55, 1.7]];

const chromosomes = [
  { name: 'Chrom. 1', color: '#8B8B00', top: chr1Top, spikes: chr1Spikes, dots: chr1Dots },
  { name: 'Chrom. 2', color: '#CDCD00', top: chr2Top, spikes: chr2Spikes, dots: chr2Dots },
  { name: 'Chrom. 3', color: '#FFA500', top: chr3Top, spikes: chr3Spikes, dots: chr3Dots },
  { name: 'Chrom. 4', color: '#FF0000', top: chr4Top, spikes: chr4Spikes, dots: chr4Dots },
  { name: 'Chrom. 5', color: '#A020F0', top: chr5Top, spikes: chr5Spikes, dots: chr5Dots },
  { name: 'Chrom. 6', color: '#FF00FF', top: chr6Top, spikes: chr6Spikes, dots: chr6Dots },
  { name: 'Chrom. 7', color: '#EE82EE', top: chr7Top, spikes: chr7Spikes, dots: chr7Dots },
  { name: 'Chrom. 8', color: '#CD2090', top: chr8Top, spikes: chr8Spikes, dots: chr8Dots },
  { name: 'Chrom. 9', color: '#8B008B', top: chr9Top, spikes: chr9Spikes, dots: chr9Dots },
  { name: 'Chrom. 10', color: '#0000CD', top: chr10Top, spikes: chr10Spikes, dots: chr10Dots },
  { name: 'Chrom. 11', color: '#6495ED', top: chr11Top, spikes: chr11Spikes, dots: chr11Dots },
  { name: 'Chrom. 12', color: '#008B8B', top: chr12Top, spikes: chr12Spikes, dots: chr12Dots },
  { name: 'Chrom. 13', color: '#006400', top: chr13Top, spikes: chr13Spikes, dots: chr13Dots },
  { name: 'Chrom. 14', color: '#CDC673', top: chr14Top, spikes: chr14Spikes, dots: chr14Dots },
  { name: 'Chrom. 15', color: '#838B83', top: chr15Top, spikes: chr15Spikes, dots: chr15Dots },
  { name: 'Chrom. 16', color: '#CDC9A5', top: chr16Top, spikes: chr16Spikes, dots: chr16Dots },
  { name: 'Chrom. 17', color: '#A52A2A', top: chr17Top, spikes: chr17Spikes, dots: chr17Dots },
  { name: 'Chrom. 18', color: '#CD5C5C', top: chr18Top, spikes: chr18Spikes, dots: chr18Dots },
  { name: 'Chrom. 19', color: '#8B3A62', top: chr19Top, spikes: chr19Spikes, dots: chr19Dots },
  { name: 'Chrom. 20', color: '#CDAA7D', top: chr20Top, spikes: chr20Spikes, dots: chr20Dots },
  { name: 'Chrom. 21', color: '#B22222', top: chr21Top, spikes: chr21Spikes, dots: chr21Dots },
  { name: 'Chrom. 22', color: '#CD853F', top: chr22Top, spikes: chr22Spikes, dots: chr22Dots },
  { name: 'Chrom. X', color: '#D8BFD8', top: chrXTop, spikes: chrXSpikes, dots: chrXDots },
  { name: 'Chrom. Y', color: '#666666', top: [] as Top, spikes: [] as Spike[], dots: [] as Dots },
];

const FONT = '"Liberation Sans", Arial, sans-serif';
const X_DOMAIN = [-69, 1833];
const Y_DOMAIN = [-0.4, 10.393];

const legendColumns = [
  { marker: 167, text: 179 },
  { marker: 283, text: 292 },
  { marker: 400, text: 406 },
];

function ChromLegend() {
  return (
    <div style={{ position: 'absolute', left: 150, top: 871, width: 353, height: 200, border: '2px solid #666', fontFamily: FONT, fontSize: 20.4 }}>
      {chromosomes.map((c, i) => {
        const col = legendColumns[Math.floor(i / 8)];
        const cy = 22 + (i % 8) * 22.3;
        return (
          <div key={c.name}>
            <span style={{ position: 'absolute', left: col.marker - 152 - 4.5, top: cy - 4.5, width: 9, height: 9, borderRadius: '50%', background: c.color }} />
            <span style={{ position: 'absolute', left: col.text - 152, top: cy - 12.5, lineHeight: '24px', whiteSpace: 'nowrap', color: '#000' }}>{c.name}</span>
          </div>
        );
      })}
    </div>
  );
}

export default function App() {
  return (
    <div style={{ position: 'absolute', left: 0, top: 0, width: 1989, height: 1076, background: '#fff', overflow: 'hidden' }}>
      <ComposedChart width={1989} height={1076} margin={{ top: 52.5, right: 1, bottom: 241, left: 0 }}>
        <XAxis type="number" dataKey="pos" domain={X_DOMAIN} hide allowDataOverflow />
        <YAxis
          type="number"
          domain={Y_DOMAIN}
          ticks={yTicks}
          width={86}
          axisLine={false}
          tickSize={12}
          tickMargin={10}
          tickLine={{ stroke: '#444', strokeWidth: 2 }}
          tick={{ fontFamily: FONT, fontSize: 32, fill: '#000' }}
          allowDataOverflow
        />
        <ReferenceLine y={thresholdValue} stroke="#cccccc" strokeWidth={3} />
        {chromosomes.filter((c) => c.top.length > 0).map((c) => (
          <Area
            key={`top-${c.name}`}
            data={c.top.map(([pos, top]) => ({ pos, top }))}
            dataKey="top"
            type="stepAfter"
            baseValue={0}
            fill={c.color}
            fillOpacity={1}
            stroke="none"
            dot={false}
            activeDot={false}
            isAnimationActive={false}
          />
        ))}
        {chromosomes.filter((c) => c.spikes.length > 0).map((c) => (
          <Line
            key={`spikes-${c.name}`}
            data={c.spikes.flatMap(([pos, low, high]) => [{ pos, v: low }, { pos, v: high }, { pos, v: null }])}
            dataKey="v"
            stroke={c.color}
            strokeWidth={3.5}
            dot={false}
            activeDot={false}
            connectNulls={false}
            isAnimationActive={false}
          />
        ))}
        {chromosomes.filter((c) => c.dots.length > 0).map((c) => (
          <Scatter
            key={`dots-${c.name}`}
            data={c.dots.flatMap(([pos, ...values]) => values.map((v) => ({ pos, v })))}
            dataKey="v"
            isAnimationActive={false}
            shape={(p: any) => <circle cx={p.cx} cy={p.cy} r={2.1} fill={c.color} />}
          />
        ))}
        <ReferenceArea x1={X_DOMAIN[0]} x2={X_DOMAIN[1]} y1={Y_DOMAIN[0]} y2={Y_DOMAIN[1]} fill="none" stroke="#222" strokeWidth={2} />
        <text x={1030} y={26} textAnchor="middle" fontFamily={FONT} fontSize={33} fill="#000">
          Positional <tspan fontStyle="italic">P</tspan><tspan dx={3}>-values of </tspan><tspan fontStyle="italic">P</tspan> (–log10)
        </text>
        <text x={1662} y={164} textAnchor="middle" fontFamily={FONT} fontSize={33.4} fill="#000">rs11873479 CCDC102B</text>
        <text transform="translate(26,452) rotate(-90)" textAnchor="middle" fontFamily={FONT} fontSize={32} fill="#000">
          –log10(<tspan fontStyle="italic">p</tspan>)
        </text>
      </ComposedChart>
      <ChromLegend />
    </div>
  );
}
